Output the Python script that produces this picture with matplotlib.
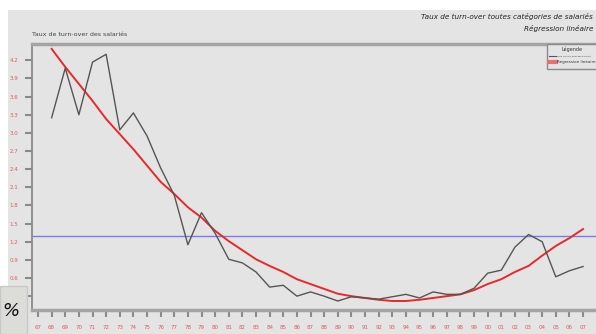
import matplotlib
matplotlib.use("Agg")
import matplotlib.pyplot as plt
from matplotlib.patches import Rectangle
from matplotlib.lines import Line2D

# tick labels along the bottom (two-digit years)
year_labels = ["67", "68", "69", "70", "71", "72", "73", "74", "75", "76",
               "77", "78", "79", "80", "81", "82", "83", "84", "85", "86",
               "87", "88", "89", "90", "91", "92", "93", "94", "95", "96",
               "97", "98", "99", "00", "01", "02", "03", "04", "05", "06", "07"]

# series start at the second tick
turnover = [3.25, 4.07, 3.30, 4.17, 4.30, 3.05, 3.33, 2.95, 2.42, 1.97,
            1.15, 1.68, 1.34, 0.91, 0.85, 0.70, 0.45, 0.48, 0.30, 0.37,
            0.30, 0.22, 0.29, 0.27, 0.25, 0.29, 0.33, 0.27, 0.37, 0.33,
            0.33, 0.43, 0.68, 0.73, 1.11, 1.32, 1.20, 0.62, 0.72, 0.79]

regression = [4.39, 4.09, 3.81, 3.53, 3.23, 2.98, 2.73, 2.46, 2.19, 1.99,
              1.77, 1.60, 1.38, 1.21, 1.06, 0.91, 0.80, 0.70, 0.58, 0.50,
              0.42, 0.34, 0.30, 0.27, 0.24, 0.22, 0.22, 0.24, 0.27, 0.30,
              0.33, 0.40, 0.50, 0.58, 0.70, 0.80, 0.97, 1.13, 1.26, 1.41]

mean_level = 1.3
y_ticks = [0.3, 0.6, 0.9, 1.2, 1.5, 1.8, 2.1, 2.4, 2.7, 3.0, 3.3, 3.6, 3.9, 4.2]

W, H = 596, 334
fig = plt.figure(figsize=(W / 100, H / 100), dpi=100)
fig.patch.set_facecolor("white")

# grey panel behind everything
fig.add_artist(Rectangle((8 / W, 0), 1, (H - 10) / H, transform=fig.transFigure,
                         facecolor="#e4e4e4", edgecolor="none", zorder=-10))

ax = fig.add_axes([32 / W, 1 - 310 / H, 1 - 32 / W, (310 - 44) / H])
ax.set_facecolor("#e4e4e4")

xs = list(range(1, len(turnover) + 1))
ax.axhline(mean_level, color="#7c7ce0", lw=1.0, zorder=1)
ax.plot(xs, regression, color="#e8282a", lw=1.4, zorder=2)
ax.plot(xs, turnover, color="#555555", lw=1.0, zorder=3)

ax.set_xlim(-0.44, 40.95)
ax.set_ylim(0.071, 4.47)

ax.set_xticks(range(len(year_labels)))
ax.set_xticklabels(year_labels)
ax.set_yticks(y_ticks)
ax.set_yticklabels([f"{v:.1f}" for v in y_ticks])
ax.tick_params(axis="both", colors="#8a8a8a", length=5, width=1.5,
               labelsize=4, labelcolor="#e05a5a")
ax.tick_params(axis="x", pad=6)
ax.tick_params(axis="y", pad=5)

for side in ("top", "bottom"):
    ax.spines[side].set_color("#a4a4a4")
    ax.spines[side].set_linewidth(2.5)
ax.spines["left"].set_color("#8a8a8a")
ax.spines["left"].set_linewidth(1.3)
ax.spines["right"].set_visible(False)

# titles
fig.text(32 / W, 1 - 35 / H, "Taux de turn-over des salariés", fontsize=4.5,
         color="#444444", va="center", ha="left")
fig.text(593 / W, 1 - 17 / H, "Taux de turn-over toutes catégories de salariés",
         fontsize=5.2, style="italic", color="#222222", va="center", ha="right")
fig.text(593 / W, 1 - 29 / H, "Régression linéaire", fontsize=5.2,
         style="italic", color="#222222", va="center", ha="right")

# legend box hanging from the top axis line
fig.add_artist(Rectangle((547 / W, 1 - 69 / H), 60 / W, 25 / H,
                         transform=fig.transFigure, facecolor="#e4e4e4",
                         edgecolor="#8a8a8a", lw=1.0, zorder=5))
fig.text(572 / W, 1 - 49 / H, "Légende", fontsize=3.5, color="#333333",
         ha="center", va="center", zorder=6)
fig.add_artist(Line2D([549 / W, 556 / W], [1 - 56 / H, 1 - 56 / H],
                      transform=fig.transFigure, color="#555555", lw=0.8, zorder=6))
fig.text(557 / W, 1 - 56 / H, "Taux de turn-over des salariés", fontsize=1.65,
         color="#333333", ha="left", va="center", zorder=6)
fig.add_artist(Line2D([549 / W, 556 / W], [1 - 62 / H, 1 - 62 / H],
                      transform=fig.transFigure, color="#e87070", lw=3, zorder=6))
fig.text(557 / W, 1 - 62 / H, "Régression linéaire", fontsize=2.9,
         color="#333333", ha="left", va="center", zorder=6)

# "%" box in the lower left corner
fig.add_artist(Rectangle((0, 0), 27 / W, (H - 286) / H, transform=fig.transFigure,
                         facecolor="#dcdcd8", edgecolor="#c8c8c4", lw=1.0, zorder=5))
fig.text(2 / W, 1 - 311 / H, "%", fontsize=13, style="italic", color="#111111",
         ha="left", va="center", zorder=6)

fig.savefig("out.png", dpi=100)
